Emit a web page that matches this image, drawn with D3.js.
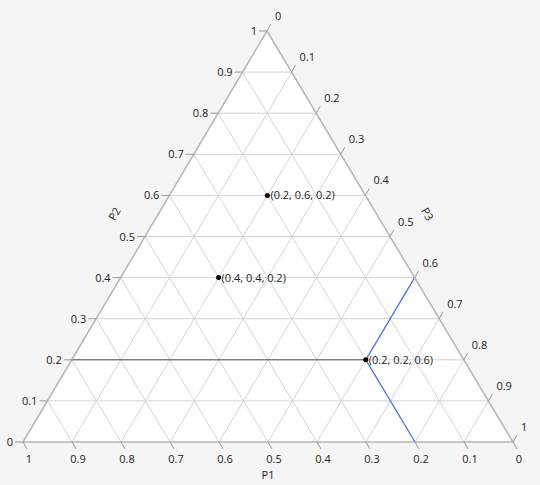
<!DOCTYPE html>
<html><head><meta charset="utf-8">
<script src="https://cdn.jsdelivr.net/npm/d3@7"></script>
<style>body{margin:0;background:#f5f5f5;font-family:"Open Sans",sans-serif;}</style>
</head><body><svg width="540" height="485"></svg>
<script>
const ticks = d3.range(0, 11).map(i => i / 10);
const axisNames = ['P1', 'P2', 'P3'];
const points = [[0.2, 0.6, 0.2], [0.4, 0.4, 0.2], [0.2, 0.2, 0.6]];
const highlight = [0.2, 0.2, 0.6];

const svg = d3.select('svg');
// vertices: P1=1 bottom-left, P2=1 top, P3=1 bottom-right
const V = [[23, 442], [267, 31], [513, 442]];
const proj = p => [p[0] * V[0][0] + p[1] * V[1][0] + p[2] * V[2][0],
                   p[0] * V[0][1] + p[1] * V[1][1] + p[2] * V[2][1]];

svg.append('polygon').attr('points', V.map(v => v.join(',')).join(' '))
  .attr('fill', '#fff');

const grid = svg.append('g').attr('stroke', '#d3d3d3').attr('stroke-width', 1);
ticks.slice(1, -1).forEach(t => {
  [[[t, 1 - t, 0], [t, 0, 1 - t]], [[1 - t, t, 0], [0, t, 1 - t]], [[1 - t, 0, t], [0, 1 - t, t]]]
    .forEach(([a, b]) => {
      const p = proj(a), q = proj(b);
      grid.append('line').attr('x1', p[0]).attr('y1', p[1]).attr('x2', q[0]).attr('y2', q[1]);
    });
});

// reference lines for highlighted point
const hp = proj(highlight);
const hl = proj([1 - highlight[1], highlight[1], 0]);
svg.append('line').attr('x1', hl[0]).attr('y1', hl[1]).attr('x2', hp[0]).attr('y2', hp[1])
  .attr('stroke', '#555');
[proj([0, 1 - highlight[2], highlight[2]]), proj([highlight[0], 0, 1 - highlight[0]])].forEach(q => {
  svg.append('line').attr('x1', hp[0]).attr('y1', hp[1]).attr('x2', q[0]).attr('y2', q[1])
    .attr('stroke', '#4a78e8').attr('stroke-width', 1.3);
});

svg.append('polygon').attr('points', V.map(v => v.join(',')).join(' '))
  .attr('fill', 'none').attr('stroke', '#b5b5b5').attr('stroke-width', 1.5);

const lab = svg.append('g').attr('font-size', 11).attr('fill', '#222');
const tickG = svg.append('g').attr('stroke', '#999');
ticks.forEach(t => {
  // P2 on left edge
  let p = proj([1 - t, t, 0]);
  tickG.append('line').attr('x1', p[0] - 8).attr('y1', p[1]).attr('x2', p[0]).attr('y2', p[1]);
  lab.append('text').attr('x', p[0] - 10).attr('y', p[1] + 4).attr('text-anchor', 'end').text(t);
  // P3 on right edge
  p = proj([0, 1 - t, t]);
  tickG.append('line').attr('x1', p[0]).attr('y1', p[1]).attr('x2', p[0] + 4).attr('y2', p[1] - 7);
  lab.append('text').attr('x', p[0] + 8).attr('y', p[1] - 11).text(t);
  // P1 on bottom edge
  p = proj([t, 0, 1 - t]);
  tickG.append('line').attr('x1', p[0]).attr('y1', p[1]).attr('x2', p[0] + 4).attr('y2', p[1] + 7);
  lab.append('text').attr('x', p[0] + 6).attr('y', p[1] + 21).attr('text-anchor', 'middle').text(t);
});

lab.append('text').attr('x', 268).attr('y', 479).attr('text-anchor', 'middle').text(axisNames[0]);
lab.append('text').attr('transform', 'translate(118,216) rotate(-60)').attr('text-anchor', 'middle').text(axisNames[1]);
lab.append('text').attr('transform', 'translate(424,216) rotate(60)').attr('text-anchor', 'middle').text(axisNames[2]);

points.forEach(p => {
  const [x, y] = proj(p);
  svg.append('circle').attr('cx', x).attr('cy', y).attr('r', 2.5).attr('fill', '#000');
  lab.append('text').attr('x', x + 3).attr('y', y + 4).text(`(${p.join(', ')})`);
});
</script></body></html>
